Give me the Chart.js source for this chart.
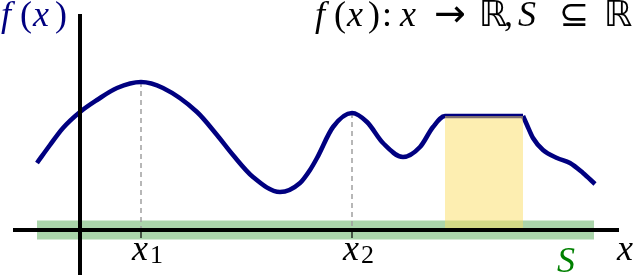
<!DOCTYPE html>
<html>
<head>
<meta charset="utf-8">
<script src="https://cdn.jsdelivr.net/npm/chart.js@4.4.1/dist/chart.umd.min.js"></script>
<style>
  html, body { margin: 0; padding: 0; background: #fff; }
  #wrap { width: 635px; height: 277px; position: relative; }
</style>
</head>
<body>
<div id="wrap"><canvas id="myChart"></canvas></div>
<script>
// f(x): left part up to the end of the flat top, right part after the kink
const curveLeftX = [-0.86, -0.60, -0.34, 0, 0.34, 0.74, 1.22, 1.66, 2.34, 2.74, 3.06, 3.46, 4.00, 4.40, 4.60, 4.74, 5.06, 5.44, 5.74, 6.06, 6.46, 6.80, 7.06, 7.30, 8.86];
const curveLeftY = [1.34, 1.70, 2.04, 2.36, 2.60, 2.84, 2.96, 2.84, 2.36, 1.90, 1.50, 1.06, 0.76, 0.94, 1.20, 1.44, 2.06, 2.34, 2.16, 1.74, 1.46, 1.66, 2.06, 2.28, 2.28];
const curveRightX = [8.86, 8.94, 9.06, 9.26, 9.54, 9.80, 10.06, 10.30];
const curveRightY = [2.28, 2.10, 1.84, 1.60, 1.44, 1.34, 1.14, 0.92];

// marked points x1, x2 (dashed drop lines)
const markX = [1.22, 5.44];
const markY = [2.96, 2.34];
const markLabels = ["1", "2"];

// yellow region under the flat top
const regionX = [7.30, 8.86];
const regionY = [2.28, 2.28];

// green set S along the x axis
const setX = [-0.86, 10.28];

// axis extents
const xAxisX = [-1.34, 10.78];
const yAxisY = [-0.90, 4.32];

const NAVY = "#000080";
const GREEN = "#008000";
const FONTS = {
    i: "italic {s}px 'Liberation Serif', serif",
    r: "{s}px 'Liberation Serif', serif",
    s: "{s}px 'DejaVu Sans', sans-serif"
};

function pts(xs, ys) {
    return xs.map((x, i) => ({ x: x, y: ys[i] }));
}

// parts: [text, style, sizeFactor, dy]; offsets: left of each part from x
function drawMath(ctx, parts, x, y, size, color, offsets) {
    ctx.save();
    ctx.fillStyle = color;
    ctx.textBaseline = "alphabetic";
    ctx.textAlign = "left";
    let cx = x;
    parts.forEach((p, i) => {
        ctx.font = FONTS[p[1]].replace("{s}", Math.round(size * (p[2] || 1)));
        const px = offsets ? x + offsets[i] : cx;
        ctx.fillText(p[0], px, y + (p[3] || 0));
        cx = px + ctx.measureText(p[0]).width;
    });
    ctx.restore();
}

const labelPlugin = {
    id: "mathLabels",
    afterDraw(chart) {
        const ctx = chart.ctx;
        const xs = chart.scales.x;
        const ys = chart.scales.y;
        const y0 = ys.getPixelForValue(0);

        markX.forEach((v, i) => {
            const px = xs.getPixelForValue(v);
            drawMath(ctx, [["x", "i"], [markLabels[i], "r", 0.72, 3]], px - 9, y0 + 30, 36, "#000", [0, 18]);
        });
        drawMath(ctx, [["x", "i"]], xs.getPixelForValue(xAxisX[1]) - 2, y0 + 30, 36, "#000");
        drawMath(ctx, [["S", "i"]], xs.getPixelForValue(setX[1]) - 37, y0 + 42, 36, GREEN);

        drawMath(ctx, [["f", "i"], ["(", "r"], ["x", "i"], [")", "r"]], 1, 26, 36, NAVY,
            [0, 19, 32, 54]);
        drawMath(ctx, [
            ["f", "i"], ["(", "r"], ["x", "i"], [")", "r"], [":", "r"],
            ["x", "i"], ["\u2192", "s", 1.05], ["\u211D", "s"], [",", "r"],
            ["S", "i"], ["\u2286", "s"], ["\u211D", "s"]
        ], 315, 26, 36, "#000", [0, 19, 32, 53, 67, 85, 119, 164, 189, 203, 244, 289]);
    }
};

const lineBase = { pointRadius: 0, fill: false, tension: 0, borderCapStyle: "butt" };

const datasets = [
    // x axis and y axis (on top)
    { ...lineBase, data: pts(xAxisX, [0, 0]), borderColor: "#000", borderWidth: 4 },
    { ...lineBase, data: pts([0, 0], yAxisY), borderColor: "#000", borderWidth: 4 },
    // small ticks under x1, x2
    ...markX.map(v => ({ ...lineBase, data: pts([v, v], [0.04, -0.16]), borderColor: "#000", borderWidth: 1.2 })),
    // yellow region
    { ...lineBase, data: pts(regionX, regionY), fill: "origin", borderWidth: 0, borderColor: "rgba(0,0,0,0)",
      backgroundColor: "rgba(252,222,100,0.5)" },
    // f(x)
    { ...lineBase, data: pts(curveLeftX, curveLeftY), borderColor: NAVY, borderWidth: 4.6,
      cubicInterpolationMode: "monotone", borderJoinStyle: "round" },
    { ...lineBase, data: pts(curveRightX, curveRightY), borderColor: NAVY, borderWidth: 4.6,
      cubicInterpolationMode: "monotone", borderJoinStyle: "round" },
    // dashed drop lines
    ...markX.map((v, i) => ({ ...lineBase, data: pts([v, v], [markY[i], 0]), borderColor: "#a0a0a0",
      borderWidth: 1.5, borderDash: [5, 4] })),
    // green band S
    { ...lineBase, data: pts(setX, [0, 0]), borderColor: "rgba(0,128,0,0.33)", borderWidth: 19 }
];

new Chart("myChart", {
    type: "line",
    data: { datasets: datasets },
    options: {
        responsive: true,
        maintainAspectRatio: false,
        animation: false,
        events: [],
        layout: { padding: 0 },
        scales: {
            x: { type: "linear", min: -1.6, max: 11.1, display: false },
            y: { type: "linear", min: -0.94, max: 4.6, display: false }
        },
        plugins: {
            legend: { display: false },
            tooltip: { enabled: false },
            title: { display: false }
        }
    },
    plugins: [labelPlugin]
});
</script>
</body>
</html>
